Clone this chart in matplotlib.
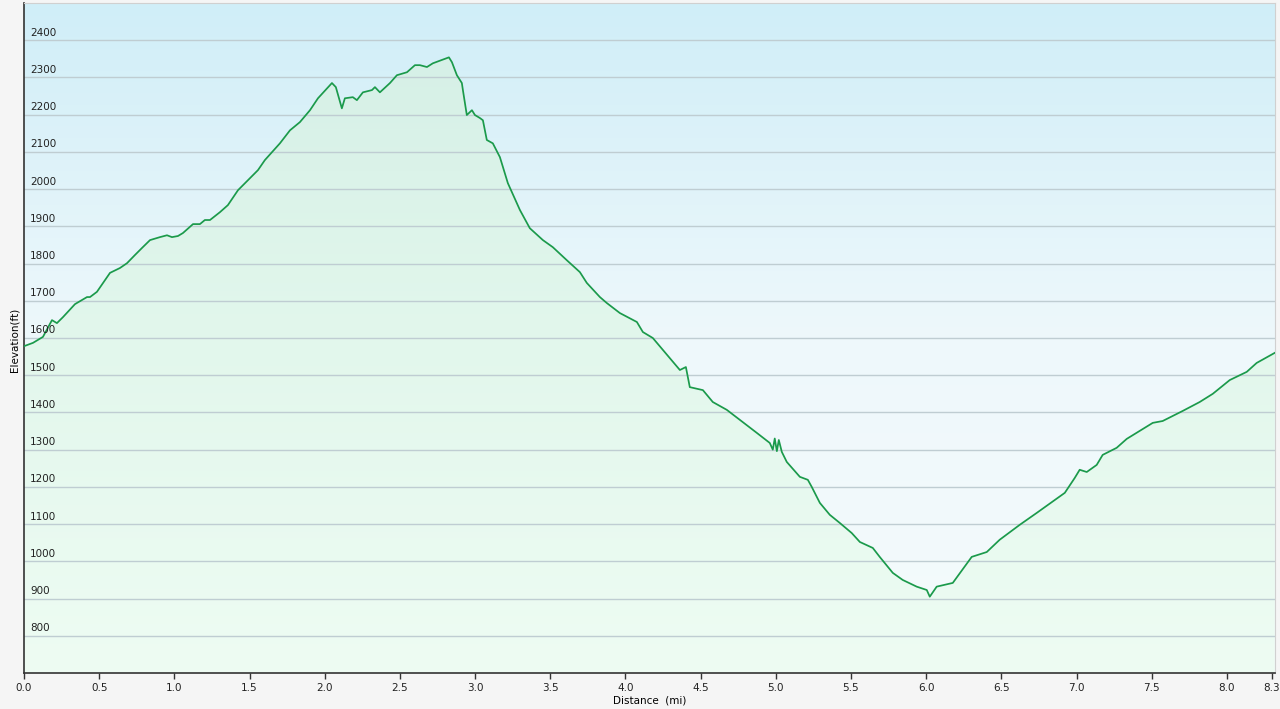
import numpy as np
import matplotlib
matplotlib.use("Agg")
import matplotlib.pyplot as plt
import matplotlib.transforms as mtransforms
from matplotlib.colors import LinearSegmentedColormap

# elevation profile
distance_mi = [0.00, 0.06, 0.126, 0.186, 0.219, 0.259, 0.339, 0.419, 0.439, 0.485,
               0.572, 0.638, 0.685, 0.738, 0.785, 0.838, 0.904, 0.951, 0.984, 1.024,
               1.057, 1.124, 1.170, 1.203, 1.237, 1.303, 1.356, 1.423, 1.489, 1.556,
               1.602, 1.649, 1.702, 1.769, 1.835, 1.902, 1.955, 2.048, 2.074, 2.114,
               2.134, 2.187, 2.214, 2.254, 2.314, 2.334, 2.367, 2.434, 2.480, 2.547,
               2.600, 2.633, 2.680, 2.719, 2.812, 2.826, 2.846, 2.879, 2.912, 2.919,
               2.945, 2.979, 2.999, 3.032, 3.052, 3.078, 3.118, 3.165, 3.218, 3.298,
               3.364, 3.451, 3.517, 3.610, 3.697, 3.743, 3.830, 3.876, 3.963, 4.076,
               4.116, 4.182, 4.295, 4.362, 4.402, 4.428, 4.515, 4.581, 4.674, 4.781,
               4.874, 4.960, 4.980, 4.993, 5.007, 5.020, 5.040, 5.073, 5.160, 5.213,
               5.239, 5.293, 5.359, 5.426, 5.505, 5.559, 5.645, 5.691, 5.778, 5.844,
               5.937, 6.004, 6.024, 6.070, 6.177, 6.303, 6.403, 6.489, 6.622, 6.735,
               6.922, 6.988, 7.021, 7.068, 7.134, 7.174, 7.267, 7.334, 7.507, 7.573,
               7.706, 7.819, 7.906, 8.019, 8.132, 8.198, 8.318]
elevation_ft = [1578, 1587, 1603, 1648, 1640, 1656, 1691, 1710, 1710, 1724,
                1775, 1788, 1801, 1823, 1842, 1863, 1871, 1876, 1871, 1874,
                1882, 1906, 1906, 1917, 1917, 1938, 1957, 1997, 2024, 2051,
                2078, 2099, 2123, 2158, 2180, 2212, 2244, 2285, 2274, 2217,
                2244, 2247, 2239, 2260, 2266, 2274, 2260, 2285, 2306, 2314,
                2333, 2333, 2328, 2338, 2352, 2354, 2341, 2306, 2285, 2266,
                2199, 2212, 2199, 2191, 2185, 2132, 2123, 2086, 2016, 1944,
                1895, 1863, 1844, 1809, 1777, 1748, 1710, 1694, 1667, 1643,
                1616, 1600, 1546, 1514, 1522, 1468, 1460, 1428, 1407, 1374,
                1345, 1318, 1300, 1330, 1296, 1326, 1294, 1267, 1227, 1219,
                1200, 1157, 1125, 1103, 1076, 1052, 1036, 1012, 969, 950,
                932, 923, 905, 932, 942, 1012, 1025, 1058, 1098, 1130,
                1184, 1224, 1246, 1240, 1259, 1286, 1305, 1329, 1372, 1377,
                1404, 1428, 1450, 1487, 1509, 1533, 1560]

y_ticks = list(range(800, 2500, 100))
x_ticks = [0.0, 0.5, 1.0, 1.5, 2.0, 2.5, 3.0, 3.5, 4.0, 4.5, 5.0, 5.5, 6.0, 6.5, 7.0, 7.5, 8.0, 8.3]

fig = plt.figure(figsize=(12.8, 7.09), dpi=100, facecolor="#f5f5f5")
ax = fig.add_axes([24 / 1280, 36 / 709, 1251 / 1280, 670 / 709])

xmin, xmax = 0, 8.32
ymin, ymax = 700, 2500

# sky gradient behind the plot
sky = LinearSegmentedColormap.from_list("sky", ["#f5fbfc", "#eef8fb", "#d0eef8"])
grad = np.linspace(0, 1, 256).reshape(-1, 1)
ax.imshow(grad, cmap=sky, origin="lower", aspect="auto",
          extent=[xmin, xmax, ymin, ymax], zorder=0)

# green gradient under the curve
mint = LinearSegmentedColormap.from_list("mint", ["#eefcf3", "#e2f7ec", "#d4efe6"])
fill_img = ax.imshow(grad, cmap=mint, origin="lower", aspect="auto",
                     extent=[xmin, xmax, ymin, ymax], zorder=1)
verts = np.vstack([np.column_stack([distance_mi, elevation_ft]),
                   [[distance_mi[-1], ymin], [distance_mi[0], ymin]]])
clip = plt.Polygon(verts, closed=True, transform=ax.transData, facecolor="none", edgecolor="none")
ax.add_patch(clip)
fill_img.set_clip_path(clip)

for y in y_ticks:
    ax.axhline(y, color="#bfcdd2", lw=1.0, zorder=2)

ax.plot(distance_mi, elevation_ft, color="#1b9a4b", lw=1.25, zorder=3)

ax.set_xlim(xmin, xmax)
ax.set_ylim(ymin, ymax)

# y labels sit inside the plot, just above each grid line
trans = mtransforms.blended_transform_factory(ax.transAxes, ax.transData)
for y in y_ticks:
    ax.text(0.005, y + 7, str(y), transform=trans, fontsize=7.5,
            color="#222222", ha="left", va="bottom", zorder=4)
ax.set_yticks([])

ax.set_xticks(x_ticks)
ax.set_xticklabels(["%.1f" % v for v in x_ticks], fontsize=7.5, color="#222222")
ax.tick_params(axis="x", length=4, width=1, color="#333333", pad=3)

ax.set_xlabel("Distance  (mi)", fontsize=7.5, labelpad=2)
fig.text(15 / 1280, 1 - 340 / 709, "Elevation(ft)", rotation=90, fontsize=7.5,
         ha="center", va="center")

for side in ["left", "bottom"]:
    ax.spines[side].set_color("#333333")
    ax.spines[side].set_linewidth(1.2)
for side in ["top", "right"]:
    ax.spines[side].set_color("#d0d0d0")
    ax.spines[side].set_linewidth(0.8)

fig.savefig("out.png", dpi=100, facecolor=fig.get_facecolor())
